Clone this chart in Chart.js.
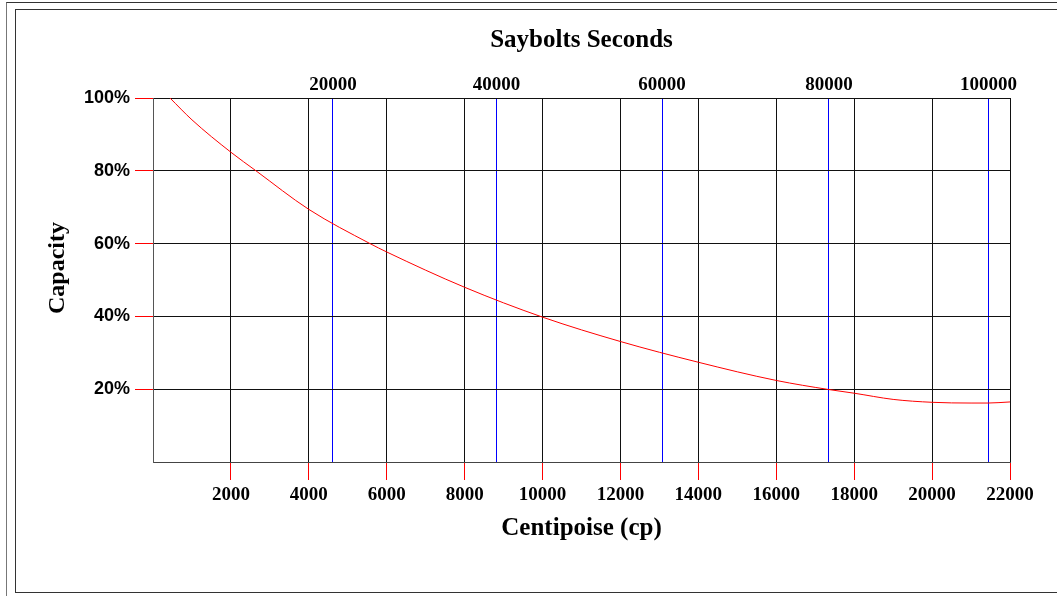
<!DOCTYPE html>
<html>
<head>
<meta charset="utf-8">
<script src="https://cdn.jsdelivr.net/npm/chart.js@4"></script>
<style>
  body { margin: 0; background: #fff; overflow: hidden; }
  #marco-ext { position: absolute; left: 6px; top: 2px; width: 1200px; height: 700px; border-left: 1px solid #777; border-top: 1px solid #333; }
  #marco-int { position: absolute; left: 15px; top: 9px; width: 1200px; height: 582px; border: 1px solid #333; }
  #grafico { position: absolute; left: 0; top: 0; }
</style>
</head>
<body>
<div id="marco-ext"></div>
<div id="marco-int"></div>
<canvas id="grafico" width="1057" height="596"></canvas>
<script>
// --- Datos ---
const centipoise = [436, 1000, 2000, 2644, 4000, 5571, 6000, 8000, 10000, 12000, 14000, 16000, 17353, 18000, 19000, 20000, 21000, 21435, 22000];
const capacidad  = [100, 94,   85.1, 80,   69.4, 60,   57.7, 48.0, 39.8,  33.1,  27.4,  22.4,  19.9,  18.9,  17.2,  16.4,  16.2,  16.2,  16.5];

const ticksCp = [2000, 4000, 6000, 8000, 10000, 12000, 14000, 16000, 18000, 20000, 22000];
const ticksCapacidad = [20, 40, 60, 80, 100];

// Segundos Saybolt y su posicion equivalente en cp
const saybolt = [20000, 40000, 60000, 80000, 100000];
const sayboltEnCp = [4620, 8818, 13067, 17353, 21448];

const fuenteSerif = { family: 'Liberation Serif', weight: 'bold', size: 19 };
const fuenteTitulo = { family: 'Liberation Serif', weight: 'bold', size: 25 };

const ctx = document.getElementById('grafico').getContext('2d');
new Chart(ctx, {
    type: 'line',
    data: {
        datasets: [{
            data: centipoise.map((x, i) => ({ x: x, y: capacidad[i] })),
            borderColor: '#ff0000',
            borderWidth: 1,
            pointRadius: 0,
            cubicInterpolationMode: 'monotone',
            fill: false
        }]
    },
    options: {
        responsive: false,
        animation: false,
        devicePixelRatio: 1,
        layout: { padding: { left: 0, right: 47, top: 0, bottom: 0 } },
        plugins: { legend: { display: false }, tooltip: { enabled: false } },
        scales: {
            x: {
                type: 'linear', position: 'bottom', min: 0, max: 22000,
                afterBuildTicks: s => { s.ticks = ticksCp.map(v => ({ value: v })); },
                afterFit: s => { s.height = 134; },
                grid: { color: '#111', tickColor: '#ff0000', tickLength: 18 },
                border: { color: '#444' },
                ticks: { font: fuenteSerif, color: '#000', padding: 4, maxRotation: 0, autoSkip: false,
                         callback: v => String(v) },
                title: { display: true, text: 'Centipoise (cp)', font: fuenteTitulo, color: '#000', padding: { top: 0, bottom: 52 } }
            },
            x2: {
                type: 'linear', position: 'top', min: 0, max: 22000,
                afterBuildTicks: s => { s.ticks = sayboltEnCp.map(v => ({ value: v })); },
                afterFit: s => { s.height = 98; },
                grid: { color: 'rgb(0, 0, 255)', lineWidth: 1, drawTicks: false },
                border: { color: '#111' },
                ticks: { font: fuenteSerif, color: '#000', padding: 2, maxRotation: 0, autoSkip: false,
                         callback: (v, i) => String(saybolt[i]) },
                title: { display: true, text: 'Saybolts Seconds', font: fuenteTitulo, color: '#000', padding: { top: 26, bottom: 0 } }
            },
            y: {
                min: 0, max: 100,
                afterBuildTicks: s => { s.ticks = ticksCapacidad.map(v => ({ value: v })); },
                afterFit: s => { s.width = 153; },
                grid: { color: '#111', tickColor: '#ff0000', tickLength: 18 },
                border: { color: '#555' },
                ticks: { font: { family: 'Liberation Sans', weight: 'bold', size: 18 }, color: '#000', padding: 5,
                         callback: v => v + '%' },
                title: { display: true, text: '    Capacity', font: { family: 'Liberation Serif', weight: 'bold', size: 24 }, color: '#000', padding: { top: 43, bottom: 0 } }
            }
        }
    }
});
</script>
</body>
</html>
